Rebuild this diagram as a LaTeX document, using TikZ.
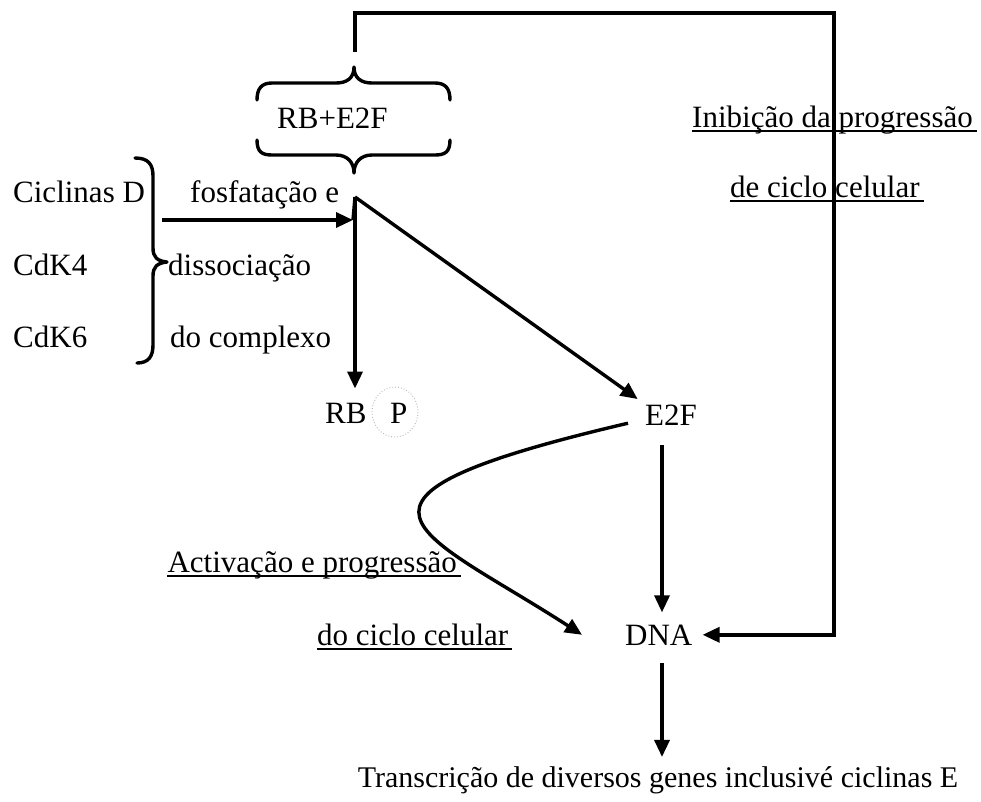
\documentclass[tikz,border=0pt]{standalone}
\usepackage{fontspec}
\setmainfont{Liberation Serif}
\usetikzlibrary{arrows.meta}
\begin{document}
\begin{tikzpicture}[x=1pt,y=-1pt,
  lbl/.style={font=\fontsize{31}{37}\selectfont, inner sep=0pt, anchor=base west},
  conn/.style={line width=3.4pt, -{Triangle[length=17pt,width=15pt]}},
  bracepath/.style={line width=3.4pt, line cap=round, line join=round},
  uline/.style={line width=1.6pt},
  phos/.style={draw=gray!55, dotted, line width=0.9pt}]
\fill[white] (0,0) rectangle (981,801);
\useasboundingbox (0,0) rectangle (981,801);

% complex and its two braces
\node[lbl] (complex) at (277,128) {RB+E2F};
\draw[bracepath] (257,100) .. controls (257,88) and (262,83) .. (272,83) -- (336,83)
  .. controls (347,83) and (354,78) .. (354,67) .. controls (354,78) and (361,83) .. (372,83)
  -- (435,83) .. controls (445,83) and (450,88) .. (450,100);
\draw[bracepath] (257,140) .. controls (257,152) and (262,155) .. (272,155) -- (336,155)
  .. controls (347,155) and (354,162) .. (354,173) .. controls (354,162) and (361,155) .. (372,155)
  -- (435,155) .. controls (445,155) and (450,152) .. (450,140);

% kinases and the brace that groups them
\node[lbl] (cicd) at (13,202) {Ciclinas D};
\node[lbl] (cdk4) at (13,275) {CdK4};
\node[lbl] (cdk6) at (13,347) {CdK6};
\draw[bracepath] (135,158) .. controls (148,158) and (153,164) .. (153,176) -- (153,248)
  .. controls (153,257) and (157,261) .. (167,262) .. controls (157,263) and (153,267) .. (153,276)
  -- (153,345) .. controls (153,357) and (148,363) .. (137,363);

% process description
\node[lbl] (fosf) at (190,202) {fosfatação e};
\node[lbl] (diss) at (168,275) {dissociação};
\node[lbl] (compl) at (170,347) {do complexo};

% products
\node[lbl] (rb) at (325,423) {RB};
\node[lbl] (p) at (390,423) {P};
\draw[phos] (395,412) ellipse [x radius=23, y radius=25];
\node[lbl] (e2f) at (645,425) {E2F};
\node[lbl] (dna) at (625,645) {DNA};
\node[lbl, font=\fontsize{30}{36}\selectfont, anchor=base] (trans) at (658,787)
  {Transcrição de diversos genes inclusivé ciclinas E};

% underlined remarks
\node[lbl] (inib1) at (692,127) {Inibição da progressão};
\node[lbl] (inib2) at (730,197) {de ciclo celular};
\node[lbl, anchor=base east] (act1) at (457,572) {Activação e progressão};
\node[lbl] (act2) at (317,645) {do ciclo celular};
\foreach \t in {inib1,inib2,act1,act2}
  \draw[uline] ([yshift=-4pt]\t.base west) -- ([yshift=-4pt,xshift=4pt]\t.base east);

% connectors
\coordinate (jt) at (355,197);
\coordinate (hstart) at (162,220);
\coordinate (hend) at (353,220);
\coordinate (loopstart) at (355,52);
\coordinate (loopcorner) at (834,13);
\coordinate (dcol) at (662,0);

\draw[conn] (hstart) -- (hend);
\draw[line width=3.4pt] (jt) -- (hend);
\draw[conn, shorten >=14pt] (jt) -- (jt |- rb.north);
\draw[conn, shorten >=9pt] (jt) -- (e2f.north west);
\draw[conn, shorten <=20pt, shorten >=12pt] (e2f.south -| dcol) -- (dna.north -| dcol);
\draw[conn] ([shift={(-17,-2)}]e2f.south west) .. controls (300,500) and (420,530) .. ([xshift=-43pt]dna.west);
\draw[conn, shorten >=10pt] (loopstart) |- (loopcorner) |- (dna.east);
\draw[conn, shorten <=18pt, shorten >=9pt] (dna.south -| dcol) -- (trans.north -| dcol);
\end{tikzpicture}
\end{document}
